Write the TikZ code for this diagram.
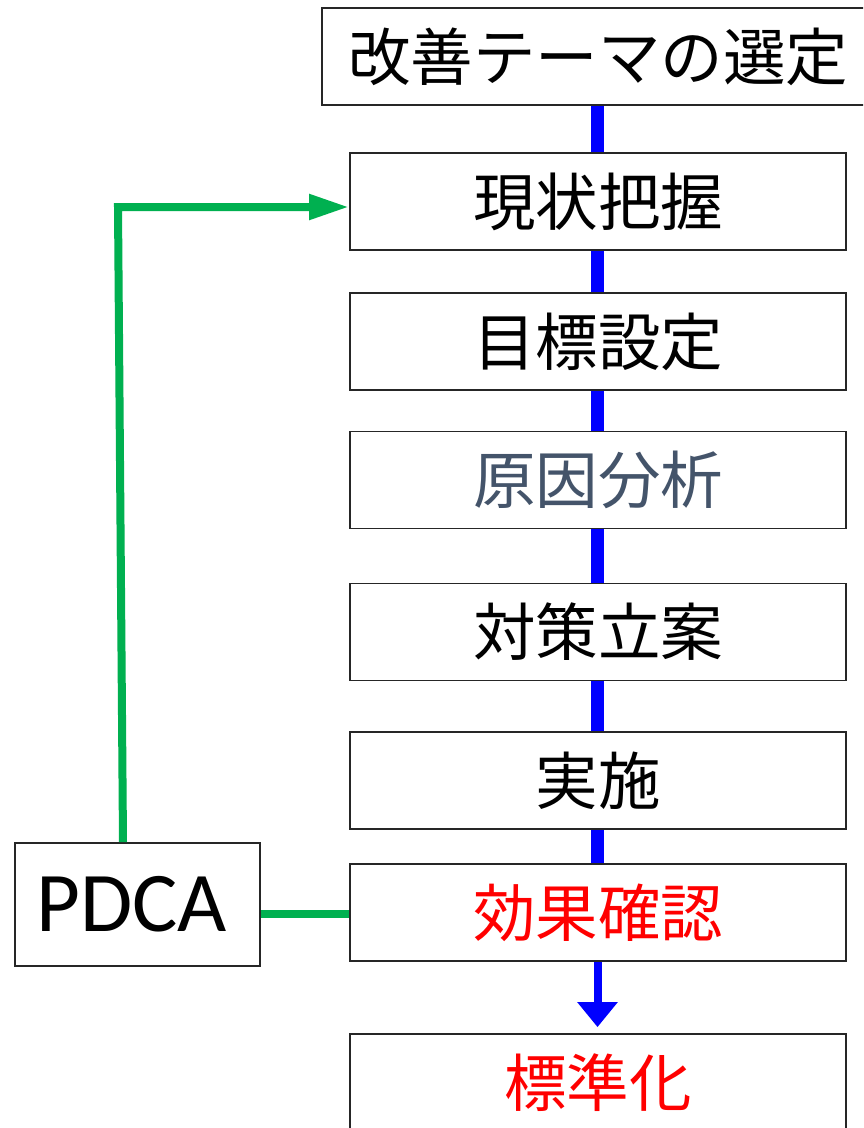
\documentclass[tikz,border=0pt]{standalone}
\usepackage{fontspec}
\newfontfamily\jpfont{Noto Sans CJK JP}
\newfontfamily\latinfont{Carlito}
\usetikzlibrary{arrows.meta}
\definecolor{pdgreen}{HTML}{00B050}
\definecolor{slateblue}{HTML}{44546A}
\definecolor{pureblue}{HTML}{0000FF}
\definecolor{purered}{HTML}{FF0000}
\begin{document}
\begin{tikzpicture}[x=1pt,y=-1pt,
  stepbox/.style={draw=black!85, line width=1.8pt, fill=white, minimum width=496pt, minimum height=97pt, inner sep=0pt, font=\jpfont\fontsize{62.5}{62.5}\selectfont},
  blueline/.style={draw=pureblue, line width=13pt},
  greenline/.style={draw=pdgreen, line width=8pt}]
\clip (0,0) rectangle (863,1128);
\fill[white] (0,0) rectangle (863,1128);
% boxes
\node[stepbox, minimum width=552pt] (s1) at (598,56.5) {改善テーマの選定};
\node[stepbox] (s2) at (598,201.5) {現状把握};
\node[stepbox] (s3) at (598,341.5) {目標設定};
\node[stepbox, text=slateblue] (s4) at (598,480) {原因分析};
\node[stepbox] (s5) at (598,632) {対策立案};
\node[stepbox] (s6) at (598,780.5) {実施};
\node[stepbox, text=purered] (s7) at (598,912.5) {効果確認};
\node[stepbox, text=purered] (s8) at (598,1082.5) {標準化};
\node[draw=black!85, line width=1.8pt, minimum width=245pt, minimum height=123pt, inner sep=0pt, font=\latinfont\fontsize{85}{85}\selectfont] (pdca) at (137.5,904.5) {PDCA\kern12pt};
% blue connectors
\foreach \a/\b in {s1/s2,s2/s3,s3/s4,s4/s5,s5/s6,s6/s7}{
  \draw[blueline] ([xshift=-0.5pt]\a.south) -- ([xshift=-0.5pt]\b.north);
}
\draw[draw=pureblue, line width=8pt, -{Triangle[length=25pt,width=39pt]}] ([xshift=-0.5pt]s7.south) -- ([xshift=-0.5pt,yshift=6pt]s8.north);
% green connectors
\coordinate (g1) at (118,207);
\draw[greenline, line join=miter, -{Triangle[length=40pt,width=24pt]}] ([xshift=-14.5pt]pdca.north) -- (g1) -- (g1 -| s2.west);
\draw[greenline] ([yshift=-9.5pt]pdca.east) -- ([yshift=-9.5pt]pdca.east -| s7.west);
\end{tikzpicture}
\end{document}
